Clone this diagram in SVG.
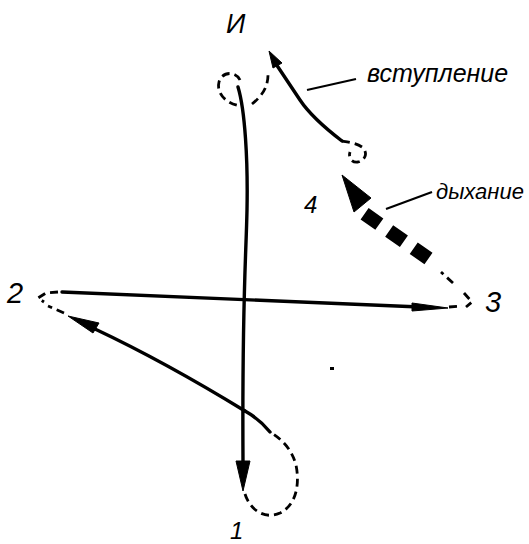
<svg xmlns="http://www.w3.org/2000/svg" width="529" height="544" viewBox="0 0 529 544">
<style>
.solid{fill:none;stroke:#000;stroke-width:3.4;stroke-linecap:round}
.dash{fill:none;stroke:#000;stroke-width:2.8;stroke-dasharray:8 5;stroke-linecap:butt}
.thin{fill:none;stroke:#000;stroke-width:2.2}
.head{fill:#000;stroke:#000;stroke-width:1}
.lbl{font-family:"Liberation Sans",Arial,sans-serif;font-style:italic;fill:#000}
</style>
<rect width="529" height="544" fill="#fff"/>
<g id="connectors">
  <!-- top-left loop -->
  <path class="dash" d="M240,80 C236,71 222,71 219,82 C216,93 226,104 241,106"/>
  <path class="dash" d="M252,104 C262,96 268,87 268,75"/>
  <!-- main vertical line -->
  <path class="solid" d="M238,87 C245,110 248,160 247,210 C246,260 242,300 243,462"/>
  <polygon class="head" points="236,461 250,461 243,491"/>
  <!-- bottom loop -->
  <path class="dash" d="M245,494 C250,510 265,520 280,513 C296,505 300,485 296,465 C292,450 283,440 270,432"/>
  <path class="solid" d="M270,432 C262,422 254,416 245,411"/>
  <!-- line to 2 -->
  <path class="solid" d="M245,411 Q165,362 95,329"/>
  <polygon class="head" points="68,316 99,323 93,333"/>
  <path class="dash" d="M64,313 L48,306"/>
  <path class="dash" d="M58,292 L46,293 L38,298 L44,302"/>
  <!-- horizontal line to 3 -->
  <path class="solid" d="M62,292 L420,307"/>
  <polygon class="head" points="412,303 448,308 412,311"/>
  <path class="dash" d="M449,307 L462,306"/>
  <path class="dash" d="M464,293 L472,302 L466,307"/>
  <path class="dash" d="M453,283 L441,272"/>
  <!-- thick dashed breath arrow -->
  <path fill="none" stroke="#000" stroke-width="14" stroke-dasharray="18 12" d="M364.6,213.8 L428.5,258.6"/>
  <polygon class="head" points="342,175 354,212 371,198"/>
  <!-- entry arrow -->
  <path class="dash" d="M342,141 C348,142 356,143 362,147 C368,152 366,160 358,162 C352,163 348,158 350,152"/>
  <path class="solid" d="M342,141 C325,128 310,115 300,100 C292,88 284,76 276,64"/>
  <polygon class="head" points="269,51 282,63 273,68"/>
  <!-- leaders -->
  <path class="thin" d="M307,90 L356,79"/>
  <path class="thin" d="M386,209 L432,192"/>
</g>
<g id="dot"><rect x="330" y="367" width="4" height="3" fill="#000"/></g>
<g id="label-I"><text class="lbl" x="226" y="33" font-size="27">И</text></g>
<g id="label-entry"><text class="lbl" x="367" y="82" font-size="25">вступление</text></g>
<g id="label-breath"><text class="lbl" x="436" y="199" font-size="22">дыхание</text></g>
<g id="label-4"><text class="lbl" x="304" y="213" font-size="24">4</text></g>
<g id="label-2"><text class="lbl" x="7" y="303" font-size="29">2</text></g>
<g id="label-3"><text class="lbl" x="485" y="312" font-size="29">3</text></g>
<g id="label-1"><text class="lbl" x="230" y="539" font-size="24">1</text></g>
</svg>
